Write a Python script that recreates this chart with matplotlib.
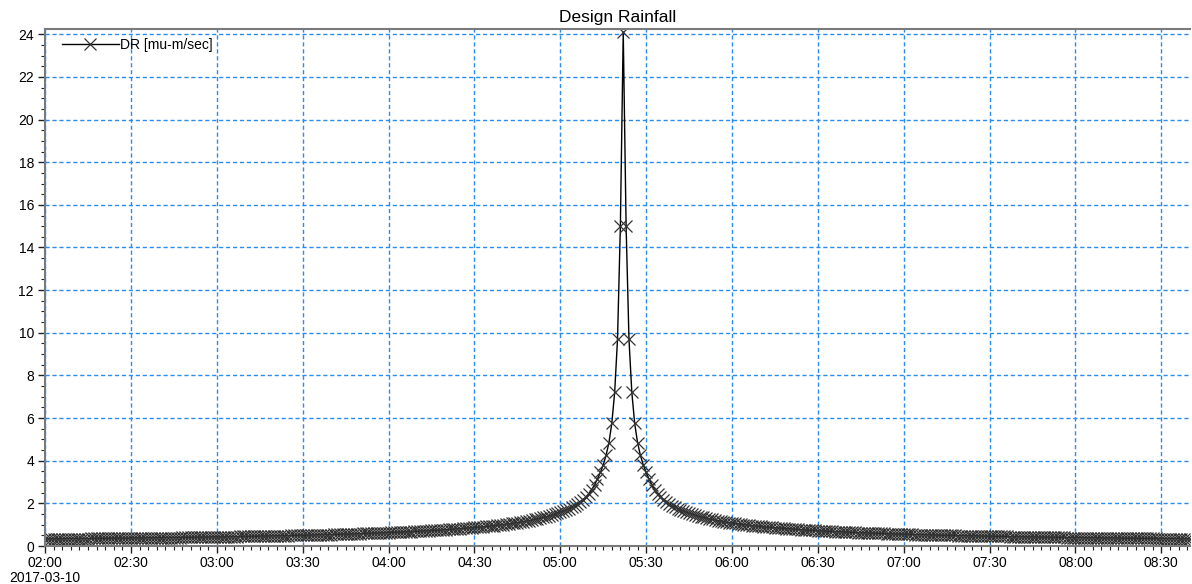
import pandas as pd
import matplotlib
matplotlib.use('Agg')
import matplotlib.pyplot as plt
import matplotlib.dates as mdates
from matplotlib.ticker import MultipleLocator, FuncFormatter

plt.rcParams['font.family'] = ['Liberation Sans', 'DejaVu Sans']

# design rainfall, 1 minute steps, peak at 05:22
start_time = '2017-03-10 02:00'
rise = [0.34, 0.34, 0.34, 0.34, 0.34, 0.34, 0.34, 0.34, 0.35, 0.35, 0.35, 0.35,
        0.35, 0.35, 0.35, 0.35, 0.36, 0.36, 0.36, 0.36, 0.36, 0.36,
        0.36, 0.37, 0.37, 0.37, 0.37, 0.37, 0.37, 0.37, 0.38, 0.38,
        0.38, 0.38, 0.38, 0.38, 0.39, 0.39, 0.39, 0.39, 0.39, 0.39,
        0.40, 0.40, 0.40, 0.40, 0.40, 0.40, 0.41, 0.41, 0.41, 0.41,
        0.41, 0.42, 0.42, 0.42, 0.42, 0.42, 0.43, 0.43, 0.43, 0.43,
        0.43, 0.44, 0.44, 0.44, 0.44, 0.44, 0.45, 0.45, 0.45, 0.45,
        0.46, 0.46, 0.46, 0.47, 0.47, 0.47, 0.47, 0.48, 0.48, 0.48,
        0.48, 0.49, 0.49, 0.49, 0.50, 0.50, 0.50, 0.51, 0.51, 0.51,
        0.51, 0.52, 0.52, 0.53, 0.53, 0.53, 0.54, 0.54, 0.54, 0.55,
        0.55, 0.55, 0.56, 0.56, 0.56, 0.57, 0.57, 0.58, 0.58, 0.59,
        0.59, 0.60, 0.60, 0.61, 0.61, 0.62, 0.62, 0.63, 0.63, 0.64,
        0.64, 0.65, 0.65, 0.66, 0.67, 0.67, 0.68, 0.69, 0.69, 0.70,
        0.71, 0.71, 0.72, 0.73, 0.74, 0.74, 0.75, 0.76, 0.77, 0.78,
        0.79, 0.80, 0.81, 0.82, 0.83, 0.84, 0.85, 0.86, 0.87, 0.88,
        0.89, 0.90, 0.92, 0.93, 0.95, 0.96, 0.98, 0.99, 1.01, 1.02,
        1.04, 1.06, 1.08, 1.10, 1.12, 1.15, 1.17, 1.19, 1.22, 1.25,
        1.28, 1.31, 1.34, 1.37, 1.41, 1.45, 1.49, 1.54, 1.59, 1.64,
        1.69, 1.76, 1.82, 1.90, 1.98, 2.07, 2.18, 2.31, 2.46, 2.65,
        2.88, 3.15, 3.45, 3.80, 4.25, 4.85, 5.75, 7.20, 9.70, 15.0]
peak = [24.1]
fall = [15.0, 9.70, 7.20, 5.75, 4.85, 4.25, 3.80, 3.45, 3.15, 2.88,
        2.65, 2.46, 2.31, 2.18, 2.07, 1.98, 1.90, 1.82, 1.76, 1.69,
        1.64, 1.59, 1.54, 1.49, 1.45, 1.41, 1.37, 1.34, 1.31, 1.28,
        1.25, 1.22, 1.19, 1.17, 1.15, 1.12, 1.10, 1.08, 1.06, 1.04,
        1.02, 1.01, 0.99, 0.98, 0.96, 0.95, 0.93, 0.92, 0.90, 0.89,
        0.88, 0.87, 0.86, 0.85, 0.84, 0.83, 0.82, 0.81, 0.80, 0.79,
        0.78, 0.77, 0.76, 0.75, 0.74, 0.74, 0.73, 0.72, 0.71, 0.71,
        0.70, 0.69, 0.69, 0.68, 0.67, 0.67, 0.66, 0.65, 0.65, 0.64,
        0.64, 0.63, 0.63, 0.62, 0.62, 0.61, 0.61, 0.60, 0.60, 0.59,
        0.59, 0.58, 0.58, 0.57, 0.57, 0.56, 0.56, 0.56, 0.55, 0.55,
        0.55, 0.54, 0.54, 0.54, 0.53, 0.53, 0.53, 0.52, 0.52, 0.51,
        0.51, 0.51, 0.51, 0.50, 0.50, 0.50, 0.49, 0.49, 0.49, 0.48,
        0.48, 0.48, 0.48, 0.47, 0.47, 0.47, 0.47, 0.46, 0.46, 0.46,
        0.45, 0.45, 0.45, 0.45, 0.44, 0.44, 0.44, 0.44, 0.44, 0.43,
        0.43, 0.43, 0.43, 0.43, 0.42, 0.42, 0.42, 0.42, 0.42, 0.41,
        0.41, 0.41, 0.41, 0.41, 0.40, 0.40, 0.40, 0.40, 0.40, 0.40,
        0.39, 0.39, 0.39, 0.39, 0.39, 0.39, 0.38, 0.38, 0.38, 0.38,
        0.38, 0.38, 0.37, 0.37, 0.37, 0.37, 0.37, 0.37, 0.37, 0.36,
        0.36, 0.36, 0.36, 0.36, 0.36, 0.36, 0.35, 0.35, 0.35, 0.35,
        0.35, 0.35, 0.35, 0.35, 0.34, 0.34, 0.34, 0.34]

dr_values = rise + peak + fall
times = pd.date_range(start_time, periods=len(dr_values), freq='min')

fig = plt.figure(figsize=(11.92, 5.84), dpi=100)
ax = fig.add_axes([0.0378, 0.065, 0.9605, 0.8855])

ax.plot(times, dr_values, color='black', linewidth=1.0,
        marker='x', markersize=8.5, markeredgecolor='#333333',
        markeredgewidth=0.9, label='DR [mu-m/sec]')

ax.set_xlim(pd.Timestamp('2017-03-10 02:00'), pd.Timestamp('2017-03-10 08:40'))
ax.set_ylim(0, 24.25)

ax.xaxis.set_major_locator(mdates.MinuteLocator(byminute=[0, 30]))
ax.xaxis.set_minor_locator(mdates.MinuteLocator(byminute=range(0, 60, 3)))


def time_label(x, pos):
    d = mdates.num2date(x)
    s = d.strftime('%H:%M')
    if pos == 0:
        s += '\n' + d.strftime('%Y-%m-%d')
    return s


ax.xaxis.set_major_formatter(FuncFormatter(time_label))
ax.yaxis.set_major_locator(MultipleLocator(2))
ax.yaxis.set_minor_locator(MultipleLocator(0.5))

ax.tick_params(which='major', length=5, width=1, labelsize=10, color='#222222', pad=3)
ax.tick_params(which='minor', length=3, width=0.8, color='#222222')
ax.tick_params(axis='x', which='major', pad=2)

ax.grid(True, which='major', color='#2b8cf0', linestyle=(0, (3, 2)), linewidth=1.0)

for side in ['top', 'bottom', 'left']:
    ax.spines[side].set_color('#7a7a7a')
    ax.spines[side].set_linewidth(1.5)
ax.spines['right'].set_visible(False)

ax.set_title('Design Rainfall', fontsize=12.5, pad=5)

ax.legend(loc='upper left', bbox_to_anchor=(0.0, 1.014), frameon=False,
          fontsize=10, handlelength=4.1, handletextpad=0.1, borderaxespad=0.8)

fig.canvas.draw()
for lbl in ax.get_xticklabels():
    lbl.set_linespacing(1.1)

fig.savefig('out.png', dpi=100)
